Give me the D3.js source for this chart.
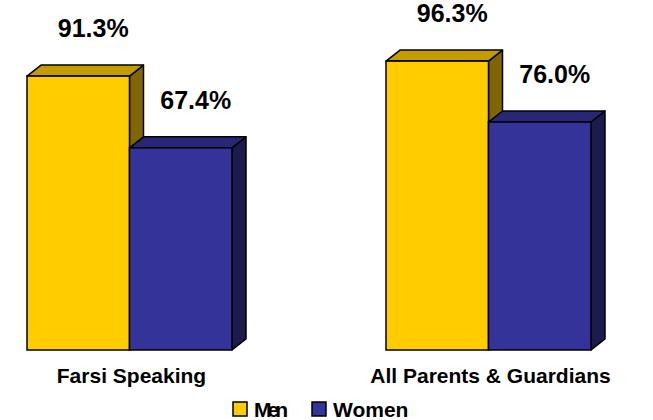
<!DOCTYPE html>
<html>
<head>
<meta charset="utf-8">
<script src="https://cdn.jsdelivr.net/npm/d3@7"></script>
<style>
  body { margin: 0; background: #fff; }
  text { font-family: "Liberation Sans", Arial, sans-serif; font-weight: bold; fill: #000; }
</style>
</head>
<body>
<div id="wrapper"></div>
<script>
const categories = ["Farsi Speaking", "All Parents & Guardians"];
const seriesNames = ["Men", "Women"];
const menValues = [91.3, 96.3];
const womenValues = [67.4, 76.0];

function buildChart() {
    const width = 653, height = 420;
    const depth = {dx: 14, dy: 11}; // 3d offset of the bars

    const colors = {
        Men:   {front: "#FFCC00", top: "#C49C00", side: "#806600"},
        Women: {front: "#333399", top: "#272775", side: "#1B1B4D"}
    };

    const svg = d3.select("#wrapper").append("svg")
        .attr("width", width)
        .attr("height", height);

    const xScaler = d3.scaleBand()
        .domain(categories)
        .range([27, 591])
        .paddingInner(0.429)
        .paddingOuter(0);

    const xInner = d3.scaleBand()
        .domain(seriesNames)
        .range([0, xScaler.bandwidth()]);

    const yScaler = d3.scaleLinear()
        .domain([0, 100])
        .range([350, 50]);

    const rows = [];
    categories.forEach((c, i) => {
        rows.push({cat: c, series: "Men", value: menValues[i]});
        rows.push({cat: c, series: "Women", value: womenValues[i]});
    });

    const bars = svg.append("g").selectAll("g")
        .data(rows)
        .join("g");

    // each bar: side, top, front
    bars.each(function(d) {
        const g = d3.select(this);
        const x0 = xScaler(d.cat) + xInner(d.series);
        const x1 = x0 + xInner.bandwidth();
        const y0 = yScaler(0);
        const y1 = yScaler(d.value);
        const c = colors[d.series];

        g.append("path")
            .attr("d", `M${x1},${y1} L${x1 + depth.dx},${y1 - depth.dy} L${x1 + depth.dx},${y0 - depth.dy} L${x1},${y0} Z`)
            .attr("fill", c.side)
            .attr("stroke", "#000")
            .attr("stroke-width", 1.5)
            .attr("stroke-linejoin", "round");

        g.append("path")
            .attr("d", `M${x0},${y1} L${x0 + depth.dx},${y1 - depth.dy} L${x1 + depth.dx},${y1 - depth.dy} L${x1},${y1} Z`)
            .attr("fill", c.top)
            .attr("stroke", "#000")
            .attr("stroke-width", 1.5)
            .attr("stroke-linejoin", "round");

        g.append("rect")
            .attr("x", x0)
            .attr("y", y1)
            .attr("width", x1 - x0)
            .attr("height", y0 - y1)
            .attr("fill", c.front)
            .attr("stroke", "#000")
            .attr("stroke-width", 1.5);
    });

    // value labels
    svg.append("g").selectAll("text")
        .data(rows)
        .join("text")
        .attr("x", d => xScaler(d.cat) + xInner(d.series) + xInner.bandwidth() / 2 + 15)
        .attr("y", d => yScaler(d.value) - 39)
        .attr("text-anchor", "middle")
        .style("font-size", "25px")
        .text(d => d.value.toFixed(1) + "%");

    // category labels
    svg.append("g").selectAll("text")
        .data(categories)
        .join("text")
        .attr("x", d => xScaler(d) + xScaler.bandwidth() / 2 + 2)
        .attr("y", 383)
        .attr("text-anchor", "middle")
        .style("font-size", "21px")
        .text(d => d);

    // legend
    const legend = svg.append("g").attr("transform", "translate(233, 402)");
    const legendX = d3.scaleOrdinal().domain(seriesNames).range([0, 79]);
    const items = legend.selectAll("g")
        .data(seriesNames)
        .join("g")
        .attr("transform", d => `translate(${legendX(d)}, 0)`);
    items.append("rect")
        .attr("width", 14)
        .attr("height", 14)
        .attr("fill", d => colors[d].front)
        .attr("stroke", "#000")
        .attr("stroke-width", 1.5);
    items.append("text")
        .attr("x", 21)
        .attr("y", 15)
        .style("font-size", "21px")
        .attr("textLength", d => d === "Men" ? 34 : null)
        .attr("lengthAdjust", "spacing")
        .text(d => d);
}

buildChart();
</script>
</body>
</html>
